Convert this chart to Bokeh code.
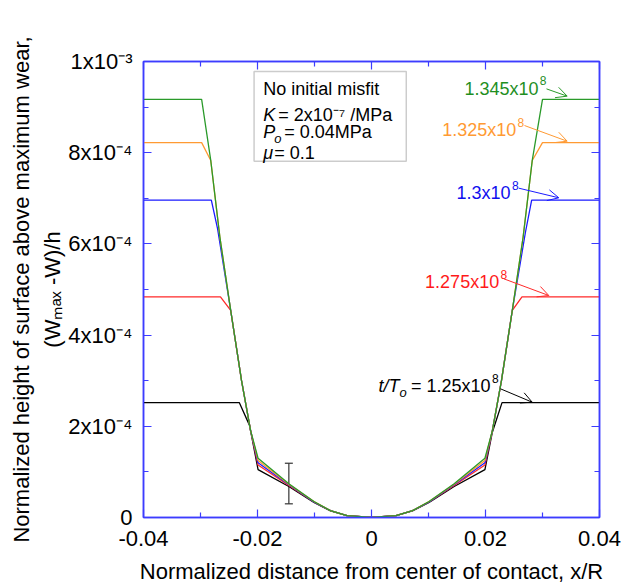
from bokeh.plotting import figure
from bokeh.models import (LinearAxis, Range1d, FixedTicker, BoxAnnotation,
                          Arrow, OpenHead, Label, Whisker, TeeHead, ColumnDataSource)
from bokeh.embed import file_html
from bokeh.resources import INLINE

FONT = "Liberation Sans"
AXIS_BLUE = "#3c3cff"

# ---------------- axis ticks ----------------
x_ticks = [-0.04, -0.02, 0.0, 0.02, 0.04]
x_tick_labels = ["-0.04", "-0.02", "0", "0.02", "0.04"]
x_minor = [-0.03, -0.01, 0.01, 0.03]
y_ticks = [0.0, 2e-4, 4e-4, 6e-4, 8e-4, 1e-3]
y_tick_labels = ["0", "2x10\u207b\u2074", "4x10\u207b\u2074", "6x10\u207b\u2074", "8x10\u207b\u2074", "1x10\u207b\u00b3"]
y_minor = [1e-4, 3e-4, 5e-4, 7e-4, 9e-4]

# ---------------- series (t/To) ----------------
x_1250 = [-0.04, -0.0232, -0.0214, -0.0199, -0.0145, -0.0101, -0.0072, -0.0043, 0.0,
          0.0043, 0.0072, 0.0101, 0.0145, 0.0199, 0.0212, 0.0229, 0.04]
y_1250 = [2.52e-4, 2.52e-4, 2.02e-4, 1.05e-4, 6.8e-5, 3.3e-5, 1.45e-5, 4e-6, 0.0,
          4e-6, 1.45e-5, 3.3e-5, 6.8e-5, 1.05e-4, 1.87e-4, 2.52e-4, 2.52e-4]

x_1275 = [-0.04, -0.0265, -0.0247, -0.0228, -0.0212, -0.0199, -0.0145, -0.0101, -0.0072, -0.0043, 0.0,
          0.0043, 0.0072, 0.0101, 0.0145, 0.0199, 0.0212, 0.0228, 0.0247, 0.0264, 0.04]
y_1275 = [4.84e-4, 4.84e-4, 4.54e-4, 3.0e-4, 1.9e-4, 1.15e-4, 7.0e-5, 3.4e-5, 1.5e-5, 4e-6, 0.0,
          4e-6, 1.5e-5, 3.4e-5, 7.0e-5, 1.15e-4, 1.9e-4, 3.0e-4, 4.54e-4, 4.84e-4, 4.84e-4]

x_1300 = [-0.04, -0.0281, -0.0270, -0.0247, -0.0228, -0.0212, -0.0199, -0.0145, -0.0101, -0.0072, -0.0043, 0.0,
          0.0043, 0.0072, 0.0101, 0.0145, 0.0199, 0.0212, 0.0228, 0.0247, 0.0270, 0.0281, 0.04]
y_1300 = [6.96e-4, 6.96e-4, 6.33e-4, 4.54e-4, 3.0e-4, 1.9e-4, 1.2e-4, 7.2e-5, 3.4e-5, 1.5e-5, 4e-6, 0.0,
          4e-6, 1.5e-5, 3.4e-5, 7.2e-5, 1.2e-4, 1.9e-4, 3.0e-4, 4.54e-4, 6.25e-4, 6.96e-4, 6.96e-4]

x_1325 = [-0.04, -0.0298, -0.0282, -0.0266, -0.0247, -0.0228, -0.0212, -0.0199, -0.0145, -0.0101, -0.0072, -0.0043, 0.0,
          0.0043, 0.0072, 0.0101, 0.0145, 0.0199, 0.0212, 0.0228, 0.0247, 0.0266, 0.0282, 0.0300, 0.04]
y_1325 = [8.22e-4, 8.22e-4, 7.83e-4, 6.15e-4, 4.54e-4, 3.0e-4, 1.9e-4, 1.25e-4, 7.3e-5, 3.5e-5, 1.5e-5, 4e-6, 0.0,
          4e-6, 1.5e-5, 3.5e-5, 7.3e-5, 1.25e-4, 1.9e-4, 3.0e-4, 4.54e-4, 6.15e-4, 7.83e-4, 8.22e-4, 8.22e-4]

x_1345 = [-0.04, -0.0298, -0.0282, -0.0266, -0.0247, -0.0228, -0.0212, -0.0199, -0.0145, -0.0101, -0.0072, -0.0043, 0.0,
          0.0043, 0.0072, 0.0101, 0.0145, 0.0199, 0.0212, 0.0228, 0.0247, 0.0266, 0.0282, 0.0300, 0.04]
y_1345 = [9.17e-4, 9.17e-4, 7.83e-4, 6.15e-4, 4.54e-4, 3.0e-4, 1.9e-4, 1.3e-4, 7.4e-5, 3.5e-5, 1.5e-5, 4e-6, 0.0,
          4e-6, 1.5e-5, 3.5e-5, 7.4e-5, 1.3e-4, 1.9e-4, 3.0e-4, 4.54e-4, 6.15e-4, 7.83e-4, 9.17e-4, 9.17e-4]

series_mantissa = ["= 1.25x10", "1.275x10", "1.3x10", "1.325x10", "1.345x10"]
series_exponent = ["8", "8", "8", "8", "8"]
series_colors = ["#000000", "#ff2a2a", "#1a1aff", "#ff9a33", "#2a9a2a"]
label_colors = ["#000000", "#ff1a1a", "#1010ee", "#ff9a33", "#1f8f1f"]

# error bar
err_x = [-0.0145]
err_low = [3.0e-5]
err_high = [1.19e-4]

p = figure(frame_width=456, frame_height=456, output_backend="svg", toolbar_location=None,
           x_range=Range1d(-0.04, 0.04), y_range=Range1d(0, 1e-3),
           x_axis_location=None, y_axis_location=None, title=None,
           min_border_left=143, min_border_right=32, min_border_top=61, min_border_bottom=60)
p.outline_line_color = AXIS_BLUE
p.outline_line_width = 1.5
p.background_fill_color = "white"
p.border_fill_color = "white"
p.xgrid.visible = False
p.ygrid.visible = False


def style_axis(ax, show):
    ax.axis_line_color = AXIS_BLUE
    ax.axis_line_width = 1.5
    ax.major_tick_line_color = AXIS_BLUE
    ax.minor_tick_line_color = AXIS_BLUE
    ax.major_tick_line_width = 1.2
    ax.minor_tick_line_width = 1.2
    ax.major_tick_in = 8
    ax.major_tick_out = 0
    ax.minor_tick_in = 5
    ax.minor_tick_out = 0
    ax.major_label_text_font = FONT
    if show:
        ax.major_label_text_color = "black"
        ax.major_label_text_font_size = "22px"
    else:
        ax.major_label_text_color = None
        ax.major_label_text_font_size = "6px"
        ax.major_label_standoff = 0
    ax.axis_label_text_font = FONT
    ax.axis_label_text_font_style = "normal"
    ax.axis_label_text_font_size = "22px"
    ax.axis_label_text_color = "black"


xt = FixedTicker(ticks=x_ticks, minor_ticks=x_minor)
yt = FixedTicker(ticks=y_ticks, minor_ticks=y_minor)

xb = LinearAxis(ticker=xt, axis_label="Normalized distance from center of contact, x/R")
style_axis(xb, True)
xb.major_label_overrides = dict(zip(x_ticks, x_tick_labels))
xb.major_label_standoff = 13
xb.axis_label_standoff = 10
p.add_layout(xb, "below")

xa = LinearAxis(ticker=xt)
style_axis(xa, False)
p.add_layout(xa, "above")

yl = LinearAxis(ticker=yt, axis_label="(W\u2098\u2090\u2093 -W)/h")
style_axis(yl, True)
yl.major_label_overrides = dict(zip(y_ticks, y_tick_labels))
yl.major_label_standoff = 11
yl.axis_label_standoff = 0
p.add_layout(yl, "left")

yo = LinearAxis(ticker=FixedTicker(ticks=[]), axis_label="Normalized height of surface above maximum wear,")
style_axis(yo, False)
yo.axis_line_color = None
yo.axis_label_standoff = 4
p.add_layout(yo, "left")

yr = LinearAxis(ticker=yt)
style_axis(yr, False)
p.add_layout(yr, "right")

# ---------------- curves ----------------
xs = [x_1250, x_1275, x_1300, x_1325, x_1345]
ys = [y_1250, y_1275, y_1300, y_1325, y_1345]
for xv, yv, c in zip(xs, ys, series_colors):
    p.line(xv, yv, line_color=c, line_width=1.3)

# error bar
err_src = ColumnDataSource(dict(base=err_x, lower=err_low, upper=err_high))
p.add_layout(Whisker(source=err_src, base="base", lower="lower", upper="upper",
                     dimension="height", line_color="#333333", line_width=1.2,
                     upper_head=TeeHead(size=8, line_color="#333333", line_width=1.2),
                     lower_head=TeeHead(size=8, line_color="#333333", line_width=1.2)))


def lab(x, y, txt, color, xoff=0, yoff=0, align="right", style="normal", size="18px"):
    p.add_layout(Label(x=x, y=y, x_offset=xoff, y_offset=yoff, text=txt,
                       text_align=align, text_baseline="alphabetic",
                       text_font=FONT, text_font_size=size, text_font_style=style,
                       text_color=color))


# ---------------- series labels and arrows ----------------
label_pos = [(0.0223, 2.873e-4), (0.0238, 5.16e-4), (0.0258, 7.112e-4), (0.0268, 8.487e-4), (0.0307, 9.401e-4)]
arrow_pos = [((0.02263, 2.822e-4), (0.02819, 2.529e-4)),
             ((0.02322, 5.234e-4), (0.03111, 4.868e-4)),
             ((0.02584, 7.222e-4), (0.03286, 7.011e-4)),
             ((0.02684, 8.596e-4), (0.03433, 8.252e-4)),
             ((0.03070, 9.40e-4), (0.03433, 9.24e-4))]
for mant, expo, (lx, ly), ((ax0, ay0), (ax1, ay1)), c, lc in zip(series_mantissa, series_exponent,
                                                                 label_pos, arrow_pos,
                                                                 series_colors, label_colors):
    lab(lx, ly, expo, lc, yoff=8, size="12px")
    lab(lx, ly, mant, lc, xoff=-8)
    p.add_layout(Arrow(x_start=ax0, y_start=ay0, x_end=ax1, y_end=ay1,
                       line_color=c, line_width=1.0,
                       end=OpenHead(size=11, line_color=c, line_width=1.0)))
# "t/To" prefix of the black label
bl_x, bl_y = label_pos[0]
lab(bl_x, bl_y, "o", "black", xoff=-92, yoff=-6, style="italic", size="13px")
lab(bl_x, bl_y, "t/T", "black", xoff=-99, style="italic")

# ---------------- parameter box ----------------
p.add_layout(BoxAnnotation(left=-0.0206, right=0.0061, bottom=0.781e-3, top=0.978e-3,
                           fill_color="white", fill_alpha=1.0,
                           line_color="#555555", line_width=1.5))
bx = -0.0190

lab(bx, 0.9386e-3, "No initial misfit", "black", align="left")
lab(bx, 0.8816e-3, "K", "black", align="left", style="italic")
lab(bx, 0.8816e-3, "= 2x10\u207b\u2077 /MPa", "black", xoff=15, align="left")
lab(bx, 0.8454e-3, "P", "black", align="left", style="italic")
lab(bx, 0.8454e-3, "o", "black", xoff=11, yoff=-7, align="left", style="italic", size="13px")
lab(bx, 0.8454e-3, "= 0.04MPa", "black", xoff=21, align="left")
lab(bx, 0.8004e-3, "\u03bc", "black", align="left", style="italic")
lab(bx, 0.8004e-3, "= 0.1", "black", xoff=11, align="left")

open("out.html", "w").write(file_html(p, INLINE))
